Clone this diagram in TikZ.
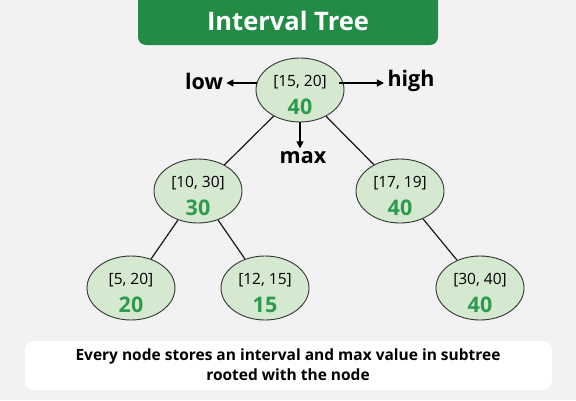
\documentclass[tikz,border=0pt]{standalone}
\usepackage{fontspec}
\IfFontExistsTF{Noto Sans SemiBold}{%
  \setmainfont{Noto Sans}[BoldFont={Noto Sans SemiBold}]}{%
  \IfFontExistsTF{Noto Sans Bold}{\setmainfont{Noto Sans}[BoldFont={Noto Sans Bold}]}{%
  \setmainfont{Open Sans}}}
\usetikzlibrary{arrows.meta,shapes.geometric}
\definecolor{bg}{HTML}{F2F2F2}
\definecolor{titlegreen}{HTML}{238B45}
\definecolor{nodefill}{HTML}{D5E8D0}
\definecolor{numgreen}{HTML}{2E9A4E}
\tikzset{
  tnode/.style={ellipse, draw=black!80, line width=0.9pt, fill=nodefill,
    minimum width=88pt, minimum height=64pt, inner sep=0pt},
  ival/.style={inner sep=0pt, font=\fontsize{15.5}{18}\selectfont},
  num/.style={inner sep=0pt, text=numgreen, font=\fontsize{21.5}{26}\selectfont\bfseries},
  edge/.style={line width=1.2pt, black!90},
  lbl/.style={font=\fontsize{21.5}{24}\selectfont\bfseries},
  arr/.style={line width=1.2pt, -{Triangle[length=7pt,width=7pt]}}
}
\newcommand{\treenode}[4]{%
  \node[tnode] (#1) at (#2) {};
  \node[ival] (#1-i) at ([yshift=8pt]#1.center) {#3};
  \node[num] (#1-m) at ([yshift=-17pt]#1.center) {#4};}
\begin{document}
\begin{tikzpicture}[x=1pt,y=-1pt]
\fill[bg] (0,0) rectangle (576,400);
\useasboundingbox (0,0) rectangle (576,400);
\fill[titlegreen, rounded corners=8pt] (138,-12) rectangle (438,45);
\node[text=white, font=\fontsize{25.5}{30}\selectfont\bfseries] (title) at (288,21) {Interval Tree};
\fill[white, rounded corners=9pt] (25,341) rectangle (552,390);
\node[align=center, font=\fontsize{15.5}{20}\selectfont\bfseries] (cap) at (288,365) {Every node stores an interval and max value in subtree\\rooted with the node};

\treenode{r}{300,90}{[15, 20]}{40}
\treenode{a}{198,191}{[10, 30]}{30}
\treenode{b}{400,191}{[17, 19]}{40}
\treenode{c}{131,288}{[5, 20]}{20}
\treenode{d}{265,288}{[12, 15]}{15}
\treenode{e}{480,288}{[30, 40]}{40}

\draw[edge] (r) -- (a);
\draw[edge] (r) -- (b);
\draw[edge] (a) -- (c);
\draw[edge] (a) -- (d);
\draw[edge] (b) -- (e);

\node[lbl] (low) at (204,81) {low};
\node[lbl] (high) at (411,81) {high};
\node[lbl] (max) at (303,158) {max};
\coordinate (rl) at (257,83);
\coordinate (rr) at (339,83);
\draw[arr] (rl) -- (low.east |- rl);
\draw[arr] (rr) -- (high.west |- rr);
\draw[arr] (r.south) -- (max.north -| r.south);
\end{tikzpicture}
\end{document}
